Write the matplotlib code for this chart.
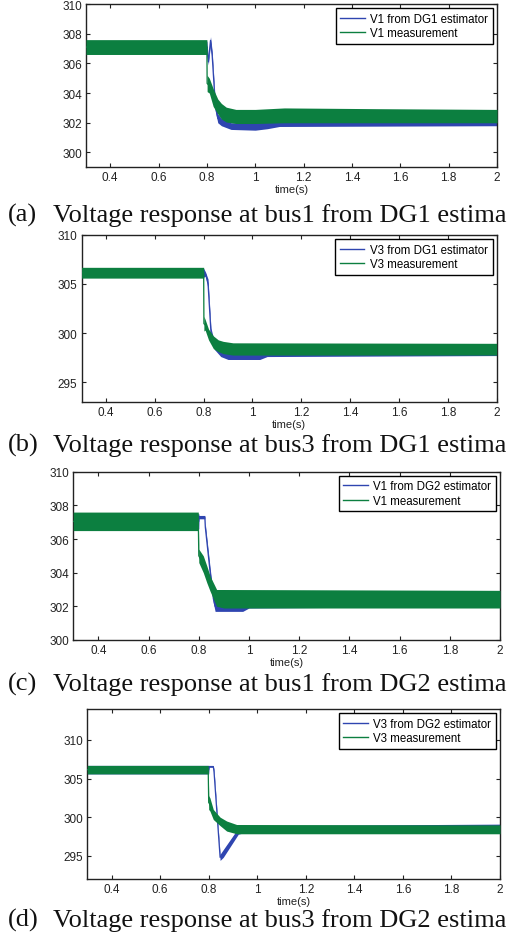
import numpy as np
import matplotlib.pyplot as plt
from matplotlib.lines import Line2D

# colours
BLUE = '#2f45b0'
GREEN = '#0c7f40'

# ---- panel (a): V1 from DG1 estimator ----
a_t_meas = [0.30, 0.80, 0.801, 0.81, 0.826, 0.845, 0.86, 0.88, 0.92, 1.00, 1.12, 1.50, 2.00]
a_meas_lo = [306.6, 306.6, 304.1, 304.0, 303.1, 302.6, 302.25, 302.05, 301.95, 301.95, 302.0, 302.0, 302.0]
a_meas_hi = [307.6, 307.6, 305.2, 305.0, 304.3, 303.6, 303.3, 303.05, 302.9, 302.9, 303.0, 302.95, 302.9]
a_t_est = [0.30, 0.80, 0.806, 0.815, 0.822, 0.835, 0.845, 0.86, 0.90, 1.00, 1.05, 1.10, 2.00]
a_est_lo = [306.7, 306.7, 305.9, 307.3, 306.2, 302.8, 302.0, 301.8, 301.55, 301.5, 301.6, 301.75, 301.8]
a_est_hi = [307.5, 307.5, 306.3, 307.8, 306.8, 303.4, 302.6, 302.3, 302.0, 302.0, 302.1, 302.2, 302.3]

# ---- panel (b): V3 from DG1 estimator ----
b_t_meas = [0.30, 0.80, 0.801, 0.806, 0.82, 0.84, 0.86, 0.88, 0.92, 2.00]
b_meas_lo = [305.6, 305.6, 300.2, 300.3, 299.3, 298.4, 298.1, 297.9, 297.75, 297.75]
b_meas_hi = [306.7, 306.7, 301.7, 301.4, 300.4, 299.7, 299.3, 299.15, 299.0, 298.95]
b_t_est = [0.30, 0.80, 0.808, 0.818, 0.83, 0.845, 0.87, 0.90, 1.03, 1.06, 2.00]
b_est_lo = [305.7, 305.7, 305.8, 304.5, 299.5, 298.3, 297.6, 297.3, 297.3, 297.6, 297.7]
b_est_hi = [306.6, 306.6, 306.2, 305.5, 300.5, 299.0, 298.3, 298.0, 298.0, 298.3, 298.4]

# ---- panel (c): V1 from DG2 estimator ----
c_t_meas = [0.30, 0.798, 0.80, 0.818, 0.832, 0.845, 0.871, 0.90, 2.00]
c_meas_lo = [306.5, 306.5, 304.6, 304.0, 303.4, 302.9, 302.0, 301.9, 301.9]
c_meas_hi = [307.6, 307.6, 305.4, 305.0, 304.4, 303.8, 303.0, 303.0, 302.95]
c_t_est = [0.30, 0.80, 0.801, 0.824, 0.826, 0.845, 0.858, 0.865, 0.975, 1.00, 2.00]
c_est_lo = [306.6, 306.6, 307.2, 307.2, 306.5, 303.8, 302.2, 301.7, 301.7, 301.9, 302.0]
c_est_hi = [307.5, 307.5, 307.4, 307.4, 306.9, 304.3, 302.7, 302.3, 302.3, 302.7, 302.9]

# ---- panel (d): V3 from DG2 estimator ----
d_t_meas = [0.30, 0.798, 0.80, 0.805, 0.819, 0.847, 0.874, 0.915, 2.00]
d_meas_lo = [305.6, 305.6, 301.0, 300.8, 299.7, 298.9, 298.2, 297.85, 297.85]
d_meas_hi = [306.7, 306.7, 302.8, 302.5, 301.0, 300.0, 299.5, 299.05, 299.0]
d_t_est = [0.30, 0.80, 0.802, 0.819, 0.822, 0.847, 0.86, 0.922, 0.96, 2.00]
d_est_lo = [305.6, 305.6, 306.45, 306.45, 305.5, 294.4, 294.8, 297.8, 298.1, 298.1]
d_est_hi = [306.7, 306.7, 306.65, 306.65, 306.2, 295.2, 295.8, 298.6, 298.9, 299.1]

x_ticks = [0.4, 0.6, 0.8, 1.0, 1.2, 1.4, 1.6, 1.8, 2.0]
x_ticklabels = ['0.4', '0.6', '0.8', '1', '1.2', '1.4', '1.6', '1.8', '2']

# captions run off the right edge of the page in the scan; only the visible part is kept
panels = [
    dict(rect=[0.1686, 0.8219, 0.806, 0.1728], ylim=(299, 310), yticks=[300, 302, 304, 306, 308, 310],
         t_m=a_t_meas, m_lo=a_meas_lo, m_hi=a_meas_hi, t_e=a_t_est, e_lo=a_est_lo, e_hi=a_est_hi,
         labels=('V1 from DG1 estimator', 'V1 measurement'),
         tag='(a)', caption='Voltage response at bus1 from DG1 estima', cap_y=222),
    dict(rect=[0.160, 0.5739, 0.8137, 0.1764], ylim=(293, 310), yticks=[295, 300, 305, 310],
         t_m=b_t_meas, m_lo=b_meas_lo, m_hi=b_meas_hi, t_e=b_t_est, e_lo=b_est_lo, e_hi=b_est_hi,
         labels=('V3 from DG1 estimator', 'V3 measurement'),
         tag='(b)', caption='Voltage response at bus3 from DG1 estima', cap_y=452),
    dict(rect=[0.1437, 0.3217, 0.8367, 0.1781], ylim=(300, 310), yticks=[300, 302, 304, 306, 308, 310],
         t_m=c_t_meas, m_lo=c_meas_lo, m_hi=c_meas_hi, t_e=c_t_est, e_lo=c_est_lo, e_hi=c_est_hi,
         labels=('V1 from DG2 estimator', 'V1 measurement'),
         tag='(c)', caption='Voltage response at bus1 from DG2 estima', cap_y=691),
    dict(rect=[0.1712, 0.0688, 0.8092, 0.1799], ylim=(292, 314), yticks=[295, 300, 305, 310],
         t_m=d_t_meas, m_lo=d_meas_lo, m_hi=d_meas_hi, t_e=d_t_est, e_lo=d_est_lo, e_hi=d_est_hi,
         labels=('V3 from DG2 estimator', 'V3 measurement'),
         tag='(d)', caption='Voltage response at bus3 from DG2 estima', cap_y=927),
]

plt.rcParams['font.family'] = ['Liberation Sans', 'DejaVu Sans']

fig = plt.figure(figsize=(5.1, 9.45), dpi=100)

for p in panels:
    ax = fig.add_axes(p['rect'])
    te = np.array(p['t_e'])
    elo, ehi = np.array(p['e_lo']), np.array(p['e_hi'])
    tm = np.array(p['t_m'])
    mlo, mhi = np.array(p['m_lo']), np.array(p['m_hi'])

    # estimator underneath, measurement on top
    ax.fill_between(te, elo, ehi, color=BLUE, lw=0, zorder=2)
    ax.plot(te, (elo + ehi) / 2, color=BLUE, lw=0.9, zorder=2)
    ax.fill_between(tm, mlo, mhi, color=GREEN, lw=0, zorder=3)
    ax.plot(tm, (mlo + mhi) / 2, color=GREEN, lw=0.9, zorder=3)

    ax.set_xlim(0.3, 2.0)
    ax.set_ylim(*p['ylim'])
    ax.set_xticks(x_ticks)
    ax.set_xticklabels(x_ticklabels)
    ax.set_yticks(p['yticks'])
    ax.tick_params(direction='in', top=True, right=True, length=3, width=0.8,
                   labelsize=8.5, colors='#222222', pad=3)
    ax.set_xlabel('time(s)', fontsize=8, labelpad=0.5, color='#222222')
    for s in ax.spines.values():
        s.set_linewidth(1.0)
        s.set_color('#222222')

    handles = [Line2D([], [], color=BLUE, lw=1), Line2D([], [], color=GREEN, lw=1)]
    leg = ax.legend(handles, p['labels'], loc='upper right', fontsize=8.3,
                    fancybox=False, edgecolor='black', framealpha=1,
                    handlelength=2.1, borderaxespad=0.35, borderpad=0.4,
                    labelspacing=0.22, handletextpad=0.5)
    leg.get_frame().set_linewidth(1.0)
    leg.set_zorder(5)

    yb = 1 - p['cap_y'] / 945
    fig.text(8 / 510, yb, p['tag'], family='Liberation Serif',
             fontsize=19, va='baseline', ha='left', color='#111111')
    fig.text(53 / 510, yb, p['caption'], family='Liberation Serif',
             fontsize=19, va='baseline', ha='left', color='#111111')

plt.savefig('out.png', dpi=100)
